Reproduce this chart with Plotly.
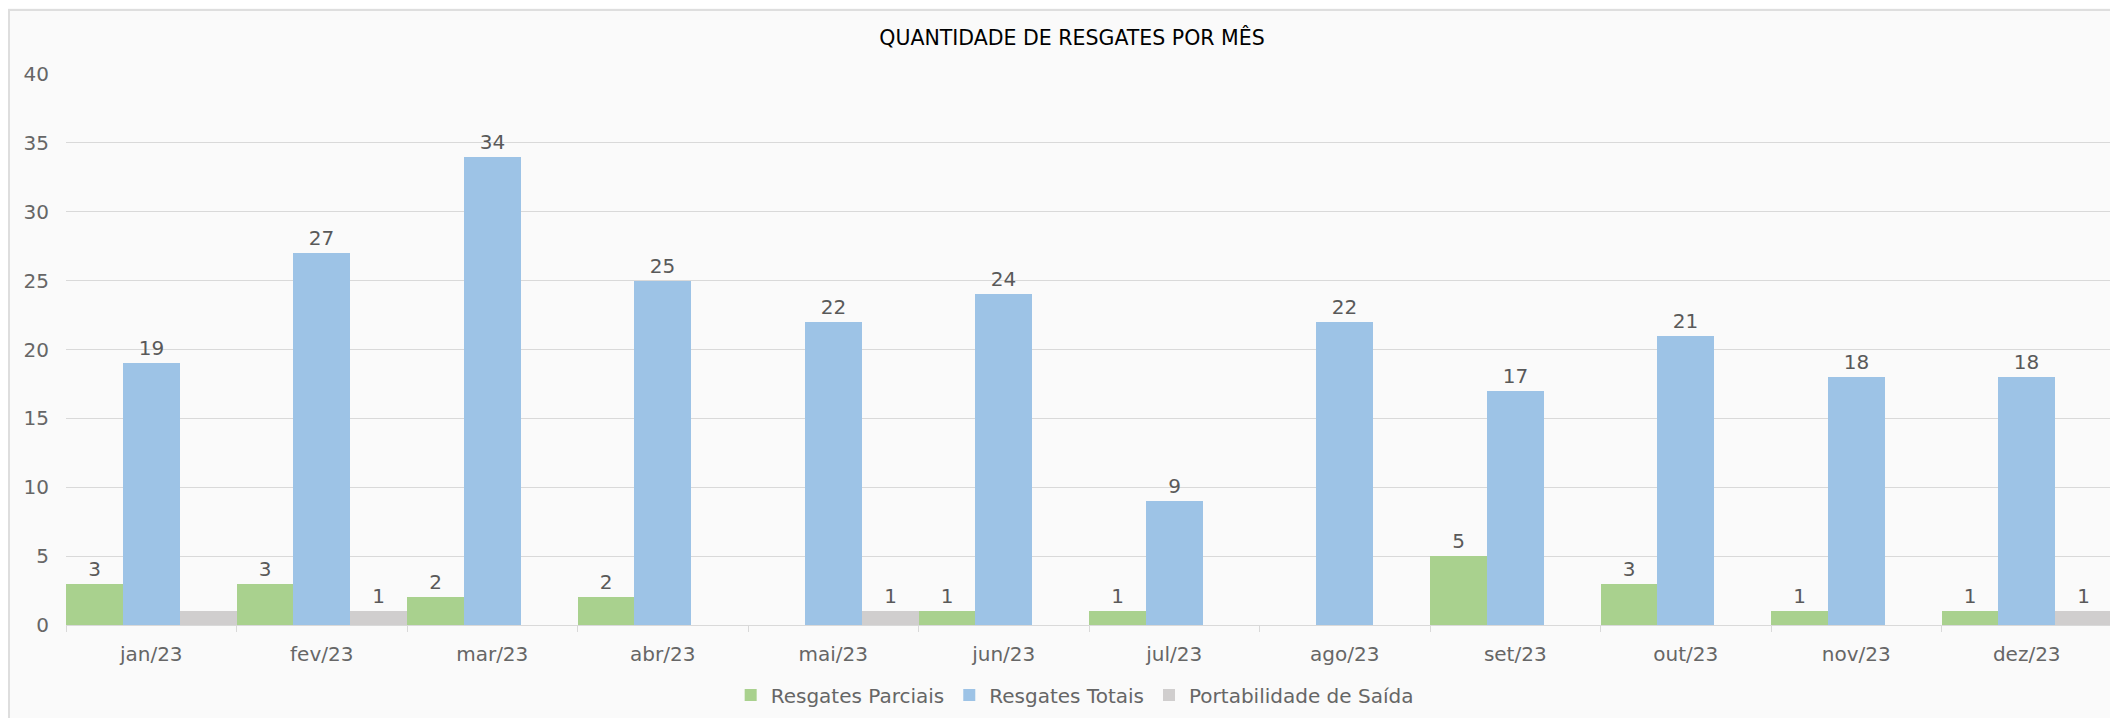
import plotly.graph_objects as go

months = ["jan/23", "fev/23", "mar/23", "abr/23", "mai/23", "jun/23",
          "jul/23", "ago/23", "set/23", "out/23", "nov/23", "dez/23"]
parciais = [3, 3, 2, 2, 0, 1, 1, 0, 5, 3, 1, 1]
totais = [19, 27, 34, 25, 22, 24, 9, 22, 17, 21, 18, 18]
portabilidade = [1, 1, 0, 0, 1, 0, 0, 0, 0, 0, 0, 1]
portabilidade_labels = ["", "1", "", "", "1", "", "", "", "", "", "", "1"]
y_ticks = [0, 5, 10, 15, 20, 25, 30, 35, 40]

FONT = "Verdana, DejaVu Sans, sans-serif"
LABEL_COLOR = "#595959"

# page body has an 8px default margin; the figure is sized to fit the window
W, H = 2110, 710


def lbl(vals):
    return [str(v) if v else "" for v in vals]


fig = go.Figure()
fig.add_trace(go.Bar(name="Resgates Parciais", x=months, y=parciais,
                     text=lbl(parciais), marker_color="#A9D18E",
                     marker_line_width=0))
fig.add_trace(go.Bar(name="Resgates Totais", x=months, y=totais,
                     text=lbl(totais), marker_color="#9DC3E6",
                     marker_line_width=0))
fig.add_trace(go.Bar(name="Portabilidade de Saída", x=months, y=portabilidade,
                     text=portabilidade_labels, marker_color="#D0CECE",
                     marker_line_width=0))
fig.update_traces(textposition="outside", cliponaxis=False,
                  textfont=dict(family=FONT, size=20, color=LABEL_COLOR),
                  hoverinfo="x+y+name")

fig.update_layout(
    width=W, height=H,
    barmode="group", bargap=0, bargroupgap=0,
    paper_bgcolor="#fafafa", plot_bgcolor="rgba(0,0,0,0)",
    margin=dict(l=58, r=6, t=66, b=93, autoexpand=False),
    font=dict(family=FONT, size=20, color="#666666"),
    title=dict(text="QUANTIDADE DE RESGATES POR MÊS", x=1064 / W, xanchor="center",
               y=1 - 30 / H, yanchor="middle", automargin=False,
               font=dict(family=FONT, size=20.5, color="#000000")),
    legend=dict(orientation="h", x=0.493, xanchor="center",
                y=-70 / 551, yanchor="middle",
                font=dict(family=FONT, size=20, color="#666666"),
                bgcolor="rgba(0,0,0,0)"),
    xaxis=dict(showgrid=False, showline=True, linecolor="#d9d9d9", linewidth=1,
               ticks="outside", tickson="boundaries", ticklen=6,
               tickcolor="#d9d9d9", tickfont=dict(size=20, color="#666666"),
               ticklabelstandoff=11, automargin=False),
    yaxis=dict(range=[0, 40], tickvals=y_ticks, showgrid=True,
               gridcolor="#d9d9d9", gridwidth=1, zeroline=False,
               showline=False, tickfont=dict(size=20, color="#666666"),
               ticklabelstandoff=16, automargin=False),
    shapes=[dict(type="rect", xref="paper", yref="paper",
                 x0=-57 / 2046, x1=1.1, y0=-0.5, y1=1 + 64 / 551,
                 line=dict(color="#dedede", width=2), layer="below")],
)

fig.write_html("out.html")
